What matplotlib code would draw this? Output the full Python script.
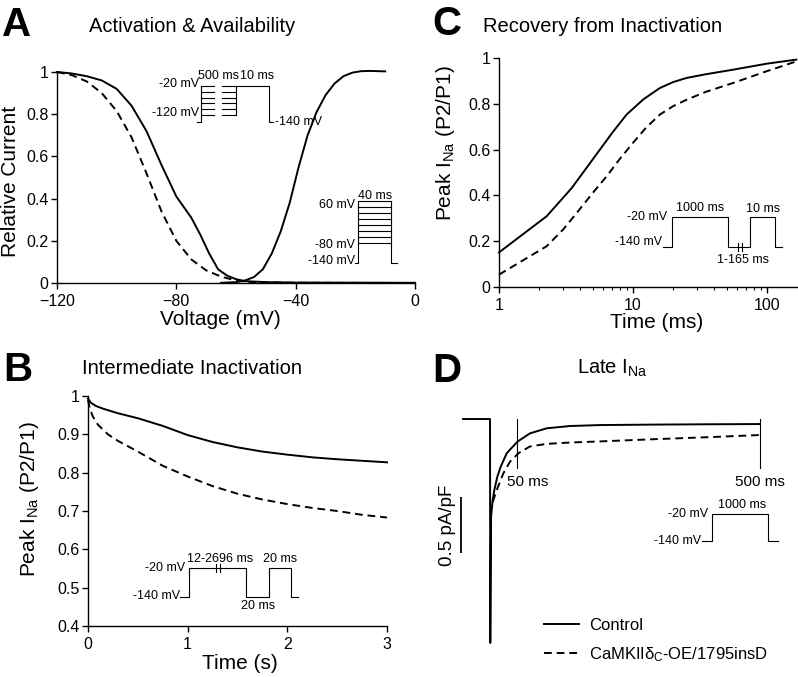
import matplotlib.pyplot as plt
from matplotlib.ticker import FormatStrFormatter, NullFormatter

plt.rcParams['font.family'] = ['Liberation Sans', 'DejaVu Sans']
plt.rcParams['mathtext.default'] = 'regular'
plt.rcParams['axes.linewidth'] = 1.0

# ---- A: activation & availability (voltage in mV, relative current)
avail_ctl_v = [-120, -115, -110, -105, -100, -95, -90, -85, -80, -75, -72, -69, -66, -63, -60, -57, -50, -40, 0]
avail_ctl = [1.0, 0.993, 0.98, 0.96, 0.92, 0.84, 0.72, 0.56, 0.41, 0.31, 0.23, 0.14, 0.065, 0.035, 0.018, 0.009, 0.004, 0.002, 0.001]
avail_ko_v = [-120, -115, -110, -105, -100, -95, -90, -85, -80, -75, -70, -65, -60, -55, -40, 0]
avail_ko = [1.0, 0.985, 0.955, 0.9, 0.815, 0.69, 0.52, 0.34, 0.2, 0.112, 0.06, 0.03, 0.012, 0.004, 0.001, 0.0]
act_v = [-65, -60, -57, -54, -51, -48, -45, -42, -39, -36, -33, -30, -27, -24, -21, -18, -15, -10]
act = [0.001, 0.004, 0.012, 0.028, 0.065, 0.14, 0.245, 0.38, 0.55, 0.7, 0.81, 0.89, 0.945, 0.98, 0.997, 1.004, 1.005, 1.003]

# ---- B: intermediate inactivation (time in s)
inter_t_ctl = [0, 0.03, 0.08, 0.15, 0.3, 0.5, 0.75, 1.0, 1.25, 1.5, 1.75, 2.0, 2.25, 2.5, 2.75, 3.0]
inter_ctl = [0.993, 0.982, 0.974, 0.967, 0.955, 0.942, 0.922, 0.898, 0.88, 0.866, 0.855, 0.847, 0.84, 0.835, 0.831, 0.827]
inter_t_ko = [0, 0.02, 0.05, 0.1, 0.2, 0.3, 0.5, 0.75, 1.0, 1.25, 1.5, 1.75, 2.0, 2.25, 2.5, 2.75, 3.0]
inter_ko = [0.99, 0.965, 0.946, 0.925, 0.9, 0.883, 0.855, 0.818, 0.79, 0.765, 0.745, 0.73, 0.718, 0.708, 0.7, 0.69, 0.683]

# ---- C: recovery from inactivation (time in ms)
rec_t_ctl = [1, 2.27, 3.49, 4.5, 5.67, 7, 8.97, 12, 15.9, 20, 25.2, 35, 56, 99.5, 166]
rec_ctl = [0.151, 0.309, 0.432, 0.52, 0.6, 0.673, 0.753, 0.82, 0.869, 0.895, 0.913, 0.929, 0.949, 0.975, 0.993]
rec_t_ko = [1, 2.27, 3.0, 3.8, 5.0, 6.36, 8, 10, 12.5, 15.9, 20, 25.2, 35, 56, 99.5, 166]
rec_ko = [0.054, 0.178, 0.25, 0.323, 0.41, 0.483, 0.56, 0.629, 0.695, 0.753, 0.79, 0.818, 0.852, 0.891, 0.942, 0.985]

# ---- D: late INa traces (time in ms, current in pA/pF)
late_t_ctl = [-50, 0, 0.5, 2, 5, 8, 13.6, 19.8, 30.9, 50.6, 74, 105, 148, 204, 300, 400, 500]
late_ctl = [0, 0, -2.0, -0.87, -0.72, -0.634, -0.515, -0.426, -0.306, -0.203, -0.128, -0.083, -0.0625, -0.054, -0.05, -0.047, -0.045]
late_t_ko = [5, 13.6, 24.7, 37, 52.5, 74, 105, 148, 204, 300, 400, 500]
late_ko = [-0.74, -0.62, -0.485, -0.381, -0.306, -0.245, -0.222, -0.21, -0.2, -0.181, -0.163, -0.143]

labels = ['Control', r'CaMKIIδ$_C$-OE/1795insD']

W, H = 798, 677
fig = plt.figure(figsize=(W / 100, H / 100), dpi=100)


def box(l, t, r, b):
    # pixel box -> figure fraction
    return [l / W, 1 - b / H, (r - l) / W, (b - t) / H]


solid = dict(color='black', lw=1.4, clip_on=False)
dashed = dict(color='black', lw=1.4, ls=(0, (4, 2.5)), clip_on=False)
tick_kw = dict(direction='out', length=4, width=1, labelsize=11.5, pad=2)


def style(ax):
    ax.spines['top'].set_visible(False)
    ax.spines['right'].set_visible(False)
    ax.tick_params(**tick_kw)
    ax.tick_params(axis='x', pad=4)


# A
ax_a = fig.add_axes(box(57, 72, 415, 283))
ax_a.plot(avail_ctl_v, avail_ctl, **solid)
ax_a.plot(avail_ko_v, avail_ko, **dashed)
ax_a.plot(act_v, act, **solid)
ax_a.set_xlim(-120, 0)
ax_a.set_ylim(0, 1)
ax_a.set_xticks([-120, -80, -40, 0])
ax_a.set_yticks([0, 0.2, 0.4, 0.6, 0.8, 1])
ax_a.yaxis.set_major_formatter(FormatStrFormatter('%g'))
style(ax_a)
ax_a.set_xlabel('Voltage (mV)', fontsize=15, va='center')
ax_a.set_ylabel('Relative Current', fontsize=15, va='center')
ax_a.xaxis.set_label_coords(0.455, -0.175)
ax_a.yaxis.set_label_coords(-0.1285, 0.483)

# B
ax_b = fig.add_axes(box(88, 396, 387, 626))
ax_b.plot(inter_t_ctl, inter_ctl, **solid)
ax_b.plot(inter_t_ko, inter_ko, **dashed)
ax_b.set_xlim(0, 3)
ax_b.set_ylim(0.4, 1)
ax_b.set_xticks([0, 1, 2, 3])
ax_b.set_yticks([0.4, 0.5, 0.6, 0.7, 0.8, 0.9, 1])
ax_b.yaxis.set_major_formatter(FormatStrFormatter('%g'))
style(ax_b)
ax_b.set_xlabel('Time (s)', fontsize=15, va='center')
ax_b.set_ylabel(r'Peak I$_{Na}$ (P2/P1)', fontsize=15, va='center')
ax_b.xaxis.set_label_coords(0.508, -0.165)
ax_b.yaxis.set_label_coords(-0.197, 0.552)

# C
ax_c = fig.add_axes(box(499, 58, 797, 287))
ax_c.plot(rec_t_ctl, rec_ctl, **solid)
ax_c.plot(rec_t_ko, rec_ko, **dashed)
ax_c.set_xscale('log')
ax_c.set_xlim(1, 168)
ax_c.set_ylim(0, 1)
ax_c.set_xticks([1, 10, 100])
ax_c.xaxis.set_major_formatter(FormatStrFormatter('%g'))
ax_c.xaxis.set_minor_formatter(NullFormatter())
ax_c.set_yticks([0, 0.2, 0.4, 0.6, 0.8, 1])
ax_c.yaxis.set_major_formatter(FormatStrFormatter('%g'))
style(ax_c)
ax_c.tick_params(axis='x', which='minor', direction='out', length=2.5, width=0.8)
ax_c.set_xlabel('Time (ms)', fontsize=15, va='center')
ax_c.set_ylabel(r'Peak I$_{Na}$ (P2/P1)', fontsize=15, va='center')
ax_c.xaxis.set_label_coords(0.53, -0.157)
ax_c.yaxis.set_label_coords(-0.181, 0.629)

# D: trace panel without axes; 0 ms at px 490, 0.54 px/ms; 112 px per pA/pF
ax_d = fig.add_axes(box(400, 330, 798, 677))
h_ctl, = ax_d.plot(late_t_ctl, late_ctl, **solid)
h_ko, = ax_d.plot(late_t_ko, late_ko, **dashed)
ax_d.set_xlim(-166.7, 570.4)
ax_d.set_ylim(-2.304, 0.795)
ax_d.axis('off')
for tm in [50, 500]:
    ax_d.plot([tm, tm], [0, -0.4375], color='black', lw=0.8)
ax_d.text(32, -0.565, '50 ms', fontsize=11, va='center', ha='left')
ax_d.text(500, -0.565, '500 ms', fontsize=11, va='center', ha='center')
ax_d.text(-78, -0.946, '0.5 pA/pF', fontsize=13.5, rotation=90, va='center', ha='center')
ax_d.legend([h_ctl, h_ko], labels, loc='upper left',
            bbox_to_anchor=(544 / W, 1 - 618 / H), bbox_transform=fig.transFigure,
            frameon=False, fontsize=12, handlelength=2.1, handletextpad=0.6,
            borderpad=0, borderaxespad=0, labelspacing=0.72)

# overlay in pixel coordinates for letters, titles and protocol sketches
ov = fig.add_axes([0, 0, 1, 1], zorder=10)
ov.set_xlim(0, W)
ov.set_ylim(H, 0)
ov.axis('off')
ov.patch.set_visible(False)

# scale bar under the rotated 0.5 pA/pF label
ov.plot([461, 461], [497, 553], color='black', lw=1.3, solid_capstyle='butt')

for x, y, s in [(17, 36, 'A'), (18, 381, 'B'), (447, 35, 'C'), (447, 382, 'D')]:
    ov.text(x, y, s, fontsize=29, fontweight='bold', ha='center', va='baseline')
for x, y, s in [(192, 32, 'Activation & Availability'), (192, 374, 'Intermediate Inactivation'),
                (603, 32, 'Recovery from Inactivation'), (612, 374, r'Late I$_{Na}$')]:
    ov.text(x, y, s, fontsize=14.5, ha='center', va='baseline')

pk = dict(color='black', lw=0.8)
# A, availability protocol
levels1 = [85.7, 91.7, 97.7, 103.3, 109.3, 115]
ov.plot([197, 201, 201], [122, 122, 85.7], **pk)
for lv in levels1:
    ov.plot([201, 214], [lv, lv], **pk)
    ov.plot([222, 236], [lv, lv], **pk)
ov.plot([236, 236], [115, 85.7], **pk)
ov.plot([236, 269, 269, 273], [85.7, 85.7, 122, 122], **pk)
# A, activation protocol
levels2 = [201, 206.7, 212.7, 219, 225, 231, 236.7, 242.7]
ov.plot([355, 358, 358], [263, 263, 201], **pk)
for lv in levels2:
    ov.plot([358, 391], [lv, lv], **pk)
ov.plot([391, 391, 397], [201, 263, 263], **pk)
# C protocol
ov.plot([663, 672, 672, 728, 728, 750, 750, 775, 775, 782],
        [247, 247, 217, 217, 247, 247, 217, 217, 247, 247], **pk)
ov.plot([738, 738], [243, 251], **pk)
ov.plot([742, 742], [243, 251], **pk)
# B protocol
ov.plot([180, 189, 189, 246, 246, 269, 269, 291, 291, 298],
        [597, 597, 568, 568, 597, 597, 568, 568, 597, 597], **pk)
ov.plot([216, 216], [564, 572], **pk)
ov.plot([220, 220], [564, 572], **pk)
# D protocol
ov.plot([702, 712, 712, 768, 768, 778], [541, 541, 514, 514, 541, 541], **pk)

proto_text = [
    (199, 84, '-20 mV', 'right'), (199, 113, '-120 mV', 'right'), (275, 122, '-140 mV', 'left'),
    (219, 76, '500 ms', 'center'), (257, 76, '10 ms', 'center'),
    (355, 205, '60 mV', 'right'), (355, 245, '-80 mV', 'right'), (355, 261, '-140 mV', 'right'),
    (375, 196, '40 ms', 'center'),
    (667, 217, '-20 mV', 'right'), (662, 242, '-140 mV', 'right'), (700, 208, '1000 ms', 'center'),
    (763, 209, '10 ms', 'center'), (743, 260, '1-165 ms', 'center'),
    (185, 568, '-20 mV', 'right'), (180, 596, '-140 mV', 'right'), (220, 559, '12-2696 ms', 'center'),
    (258, 606, '20 ms', 'center'), (280, 559, '20 ms', 'center'),
    (708, 514, '-20 mV', 'right'), (701, 541, '-140 mV', 'right'), (742, 505, '1000 ms', 'center'),
]
for x, y, s, ha in proto_text:
    ov.text(x, y, s, fontsize=9, ha=ha, va='center')

fig.savefig('out.png', dpi=100)
